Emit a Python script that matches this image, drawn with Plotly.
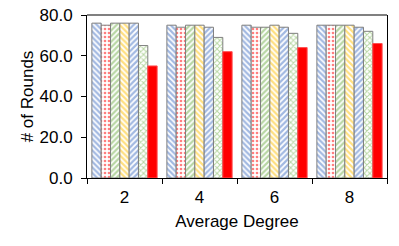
import plotly.graph_objects as go

categories = ["2", "4", "6", "8"]
s1 = [76, 75, 75, 75]
s2 = [75, 74, 74, 75]
s3 = [76, 75, 74, 75]
s4 = [76, 75, 75, 75]
s5 = [76, 74, 74, 74]
s6 = [65, 69, 71, 72]
s7 = [55, 62, 64, 66]
series = [s1, s2, s3, s4, s5, s6, s7]
names = ["A", "B", "C", "D", "E", "F", "G"]
y_ticks = [0, 20, 40, 60, 80]
y_tick_labels = ["0.0", "20.0", "40.0", "60.0", "80.0"]

styles = [
    ("#4472C4", "\\", 0.55),
    ("#FF0000", ".", 0.35),
    ("#70AD47", "/", 0.55),
    ("#FFC000", "\\", 0.55),
    ("#4472C4", "/", 0.55),
    ("#70AD47", "x", 0.45),
    ("#FF0000", "", 0),
]

fig = go.Figure()
for name, vals, (col, shp, sol) in zip(names, series, styles):
    if shp:
        marker = dict(color="white", line=dict(color="#7F7F7F", width=1),
                      pattern=dict(shape=shp, fgcolor=col, bgcolor="white",
                                   size=4, solidity=sol, fillmode="overlay"))
    else:
        marker = dict(color=col, line=dict(color="#FF5050", width=1))
    fig.add_trace(go.Bar(x=categories, y=vals, name=name, marker=marker))

fig.update_layout(
    width=399, height=246,
    margin=dict(l=87, r=12, t=15, b=68),
    paper_bgcolor="white", plot_bgcolor="white",
    barmode="group", bargap=0.13, bargroupgap=0,
    showlegend=False,
    font=dict(family="Liberation Sans, Arial", size=17, color="black"),
    xaxis=dict(title=dict(text="Average Degree", font=dict(size=17), standoff=8),
               automargin=False,
               showline=True, linecolor="black", linewidth=1,
               ticks="outside", tickson="boundaries", ticklen=5, tickcolor="black",
               tickfont=dict(size=17), ticklabelstandoff=4,
               showgrid=False),
    yaxis=dict(title=dict(text="# of Rounds", font=dict(size=17), standoff=1),
               automargin=False,
               range=[0, 80], tickvals=y_ticks, ticktext=y_tick_labels,
               tickfont=dict(size=17), ticklabelstandoff=5,
               showline=True, linecolor="black", linewidth=1, mirror=True,
               ticks="outside", ticklen=5, tickcolor="black",
               showgrid=False, zeroline=False),
    shapes=[dict(type="line", xref="paper", yref="paper", x0=0, x1=1, y0=1, y1=1,
                 line=dict(color="#808080", width=2))],
)

fig.write_html("out.html", config={"displayModeBar": False},
               post_script="document.body.style.margin='0';document.body.style.overflow='hidden';")
